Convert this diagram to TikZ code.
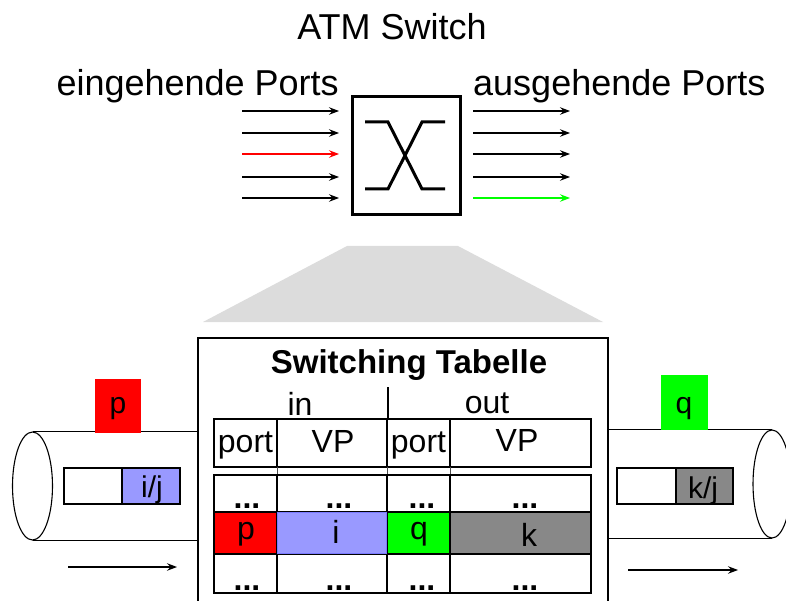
\documentclass[tikz,border=0pt]{standalone}
\usepackage{fontspec}
\setmainfont{Liberation Sans}
\usetikzlibrary{arrows.meta,shapes.geometric}
\definecolor{cellred}{RGB}{255,0,0}
\definecolor{cellgreen}{RGB}{0,255,0}
\definecolor{cellblue}{RGB}{153,153,255}
\definecolor{cellgray}{RGB}{136,136,136}
\definecolor{funnel}{RGB}{220,220,220}
\tikzset{
  big/.style={inner sep=0, font=\fontsize{36}{40}\selectfont},
  lbl/.style={inner sep=0, anchor=base, font=\fontsize{32}{36}\selectfont},
  small/.style={inner sep=0, anchor=base, font=\fontsize{30}{34}\selectfont},
  dotrow/.style={inner sep=0, anchor=base, font=\bfseries\fontsize{32}{36}\selectfont},
  portarrow/.style={-{Stealth[length=10pt,width=7.5pt,inset=3.5pt]}, line width=1.2pt},
  flowarrow/.style={-{Stealth[length=10pt,width=7.5pt,inset=3.5pt]}, line width=1.2pt},
  tcell/.style={draw, line width=1.5pt, inner sep=0, minimum width=#1},
  hcell/.style={tcell=#1, minimum height=48pt},
  pipe/.style={line width=1.1pt},
  tag/.style={inner sep=0, minimum width=46pt, minimum height=54pt},
  vcell/.style={draw, line width=1.2pt, inner sep=0, minimum width=58pt, minimum height=36pt}
}
\begin{document}
\begin{tikzpicture}[x=1pt,y=-1pt]
\useasboundingbox (0,0) rectangle (786,601);
\clip (0,0) rectangle (786,601);

% --- switch and its ports ---
\node[big, anchor=base] (title) at (392,40) {ATM Switch};
\node[big, anchor=base east] (inlabel) at (339,96) {eingehende Ports};
\node[big, anchor=base west] (outlabel) at (473,96) {ausgehende Ports};

\node[draw, line width=3pt, minimum width=108pt, minimum height=118pt, inner sep=0] (sw) at (406,156) {};
\draw[line width=3pt] (365,122) -- (388,122) -- (422,189) -- (445,189);
\draw[line width=3pt] (365,189) -- (388,189) -- (422,122) -- (445,122);

\foreach \i/\y/\c in {1/111/black,2/133/black,3/154/cellred,4/177/black,5/198/black}{
  \coordinate (ina\i) at (242,\y);
  \coordinate (inb\i) at (339,\y);
  \draw[portarrow,\c] (ina\i) -- (inb\i);
}
\foreach \i/\y/\c in {1/111/black,2/133/black,3/154/black,4/177/black,5/198/cellgreen}{
  \coordinate (outa\i) at (473,\y);
  \coordinate (outb\i) at (570,\y);
  \draw[portarrow,\c] (outa\i) -- (outb\i);
}

% --- zoom funnel ---
\fill[funnel] (347,246) -- (458,246) -- (603,322) -- (203,322) -- cycle;

% --- switching table frame ---
\node[draw, line width=1.3pt, inner sep=0, minimum width=410pt, minimum height=280pt] (frame) at (403,478) {};
\node[inner sep=0, anchor=base, font=\bfseries\fontsize{33}{36}\selectfont] (ttitle) at (409,373) {Switching Tabelle};
\coordinate (divtop) at (388,387);
\coordinate (divbot) at (388,419);
\draw[line width=1.3pt] (divtop) -- (divbot);
\node[lbl] (in) at (300,415) {in};
\node[lbl] (out) at (487,413) {out};

% header row
\node[hcell=63pt]  (h1) at (245.5,443) {};
\node[hcell=110pt] (h2) at (332,443) {};
\node[hcell=63pt]  (h3) at (418.5,443) {};
\node[hcell=141pt] (h4) at (520.5,443) {};
\node[lbl] (th1) at (245.5,452) {port};
\node[lbl] (th2) at (333,452) {VP};
\node[lbl] (th3) at (418.5,452) {port};
\node[lbl] (th4) at (517,451) {VP};

% column lines through the gap
\foreach \x in {277,387,450}{
  \draw[line width=1pt, black!70] (\x,467) -- (\x,475);
}

% body rows
\foreach \r/\y/\h in {1/493.5/37pt,3/573.5/39pt}{
  \node[tcell=63pt, minimum height=\h]  (r\r c1) at (245.5,\y) {};
  \node[tcell=110pt, minimum height=\h] (r\r c2) at (332,\y) {};
  \node[tcell=63pt, minimum height=\h]  (r\r c3) at (418.5,\y) {};
  \node[tcell=141pt, minimum height=\h] (r\r c4) at (520.5,\y) {};
}
\node[tcell=63pt, minimum height=42pt, fill=cellred]  (r2c1) at (245.5,533) {};
\node[tcell=141pt, minimum height=42pt, fill=cellgray] (r2c4) at (520.5,533) {};
\node[tcell=63pt, minimum height=42pt, fill=cellgreen] (r2c3) at (418.5,533) {};
\node[draw=cellblue!80!blue, line width=1pt, inner sep=0, minimum width=109pt, minimum height=41pt, fill=cellblue] (r2c2) at (332,533) {};

\node[dotrow] (d11) at (247,508) {...};
\node[dotrow] (d12) at (339,508) {...};
\node[dotrow] (d13) at (422,508) {...};
\node[dotrow] (d14) at (525,508) {...};
\node[dotrow] (d31) at (247,590) {...};
\node[dotrow] (d32) at (339,590) {...};
\node[dotrow] (d33) at (422,590) {...};
\node[dotrow] (d34) at (525,590) {...};

\node[lbl] (vp) at (246,539) {p};
\node[lbl] (vi) at (336,543) {i};
\node[lbl] (vq) at (419,539) {q};
\node[lbl] (vk) at (529,546) {k};

% --- incoming link ---
\node[draw, pipe, ellipse, inner sep=0, minimum width=40pt, minimum height=108pt] (lend) at (32.5,486) {};
\draw[pipe] (lend.north) -- (frame.west |- lend.north);
\draw[pipe] (lend.south) -- (frame.west |- lend.south);
\node[tag, fill=cellred] (ltag) at (118,405.5) {};
\node[small] (ltagtxt) at (118,413) {p};
\node[vcell] (lcellw) at (93,486) {};
\node[vcell, fill=cellblue] (lcellb) at (151,486) {};
\node[small] (lcelltxt) at (152,497) {i/j};
\coordinate (lflowa) at (68,567);
\coordinate (lflowb) at (177,567);
\draw[flowarrow] (lflowa) -- (lflowb);

% --- outgoing link ---
\node[draw, pipe, ellipse, inner sep=0, minimum width=38pt, minimum height=108pt] (rend) at (772,484) {};
\draw[pipe] (frame.east |- rend.north) -- (rend.north);
\draw[pipe] (frame.east |- rend.south) -- (rend.south);
\node[tag, minimum width=47pt, minimum height=55pt, fill=cellgreen] (rtag) at (684.5,402.5) {};
\node[small] (rtagtxt) at (684,413) {q};
\node[vcell, minimum width=59pt] (rcellw) at (646.5,486) {};
\node[vcell, minimum width=57pt, fill=cellgray] (rcellg) at (704.5,486) {};
\node[small] (rcelltxt) at (703,498) {k/j};
\coordinate (rflowa) at (628,570);
\coordinate (rflowb) at (738,570);
\draw[flowarrow] (rflowa) -- (rflowb);
\end{tikzpicture}
\end{document}
